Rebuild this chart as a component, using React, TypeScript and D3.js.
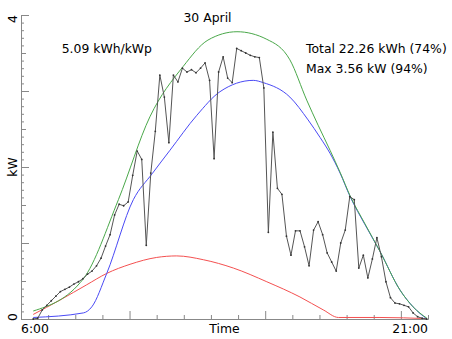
import React, { useRef, useEffect } from 'react';
import * as d3 from 'd3';

// 10-minute samples, first one at 6.45 h
const sampleStart = 6.45;
const sampleStep = 1 / 6;
const measured = [
  0, 0.01, 0.12, 0.18, 0.24, 0.30, 0.36, 0.39, 0.42, 0.46, 0.49, 0.53,
  0.59, 0.63, 0.70, 0.80, 0.96, 1.11, 1.37, 1.51, 1.49, 1.54,
  1.89, 2.21, 2.10, 0.97, 1.92, 2.47, 3.21, 2.92, 2.32, 3.21,
  3.12, 3.30, 3.25, 3.28, 3.24, 3.30, 3.37, 3.14, 2.11, 3.25,
  3.45, 3.17, 3.11, 3.56, 3.53, 3.50, 3.47, 3.45, 3.44, 3.04,
  1.14, 2.46, 1.72, 1.64, 1.09, 0.84, 1.16, 1.16, 0.95, 0.70,
  1.17, 1.28, 1.11, 0.87, 0.75, 0.63, 1.00, 1.17, 1.61, 1.57,
  0.67, 0.84, 0.54, 0.79, 1.07, 0.82, 0.49, 0.28, 0.21, 0.20,
  0.18, 0.16, 0.08, 0.03, 0.01, 0,
];

// model curves: [hour, kW]
const clearSkyGreen: [number, number][] = [
  [6.45, 0.105], [8.3, 0.53], [9.59, 1.57], [10.75, 2.66], [11.97, 3.32],
  [12.89, 3.67], [13.96, 3.78], [15.06, 3.68], [15.91, 3.41], [16.53, 2.88],
  [16.95, 2.55], [17.39, 2.22], [17.76, 1.93], [18.13, 1.62], [18.68, 1.25],
  [19.23, 0.89], [19.97, 0.38], [20.45, 0.16], [20.96, 0.01],
];
const directBlue: [number, number][] = [
  [6.45, 0.02], [8.3, 0.08], [8.61, 0.16], [9.16, 0.6], [10.14, 1.57],
  [10.83, 1.91], [11.49, 2.22], [12.48, 2.68], [13.33, 2.99], [14.56, 3.14],
  [14.93, 3.11], [15.91, 2.92], [16.58, 2.62], [17.02, 2.39], [17.39, 2.18],
  [17.76, 1.92], [18.13, 1.61], [18.68, 1.24], [19.23, 0.89], [19.97, 0.38],
  [20.45, 0.16], [20.96, 0],
];
const diffuseRed: [number, number][] = [
  [6.45, 0.06], [7.44, 0.25], [8.42, 0.45], [9.16, 0.6], [10.02, 0.72],
  [11.0, 0.81], [11.74, 0.83], [12.72, 0.78], [13.83, 0.67], [15.06, 0.49],
  [16.28, 0.29], [17.14, 0.12], [17.7, 0.02], [19.23, 0.02], [20.96, 0.005],
];

const hourTicks = d3.range(6, 22);
const kwTicks = d3.range(0, 41).map((d) => d / 10);

const font = 'DejaVu Sans';
const fs = 12.4;

export default function App() {
  const width = 452;
  const height = 339;
  const x = d3.scaleLinear().domain([6, 21]).range([21, 428]);
  const y = d3.scaleLinear().domain([0, 4]).range([319, 15]);
  const axRef = useRef<SVGGElement>(null);

  useEffect(() => {
    const g = d3.select(axRef.current);
    g.selectAll('*').remove();
    const minorX = hourTicks.filter((h) => h % 5 !== 0);
    const majorX = hourTicks.filter((h) => h % 5 === 0);
    g.append('g').attr('transform', 'translate(0,319)')
      .call(d3.axisBottom(x).tickValues(minorX).tickSize(-4).tickSizeOuter(0).tickFormat(() => ''));
    g.append('g').attr('transform', 'translate(0,319)')
      .call(d3.axisBottom(x).tickValues(majorX).tickSize(-8).tickSizeOuter(0).tickFormat(() => ''));
    const isInt = (v: number) => Math.abs(v - Math.round(v)) < 1e-6;
    const isHalf = (v: number) => !isInt(v) && Math.abs(v * 2 - Math.round(v * 2)) < 1e-6;
    const groups: [number[], number][] = [
      [kwTicks.filter((v) => !isInt(v) && !isHalf(v)), -3],
      [kwTicks.filter(isHalf), -5],
      [kwTicks.filter(isInt), -8],
    ];
    groups.forEach(([vals, size]) => {
      g.append('g').attr('transform', 'translate(21,0)')
        .call(d3.axisLeft(y).tickValues(vals).tickSize(size).tickSizeOuter(0).tickFormat(() => ''));
    });
    g.selectAll('path.domain').attr('stroke', '#888');
    g.selectAll('.tick line').attr('stroke', '#888');
  });

  const pts: [number, number][] = measured.map((v, i) => [sampleStart + i * sampleStep, v]);
  const straight = d3.line<[number, number]>().x((d) => x(d[0])).y((d) => y(d[1]));
  const smooth = d3.line<[number, number]>().x((d) => x(d[0])).y((d) => y(d[1])).curve(d3.curveMonotoneX);

  return (
    <svg width={width} height={height} style={{ position: 'absolute', left: 0, top: 0, background: '#fff' }}
      fontFamily={font} fontSize={fs}>
      <g ref={axRef} />
      <path d={smooth(diffuseRed) || ''} fill="none" stroke="#f45050" strokeWidth={1} />
      <path d={smooth(directBlue) || ''} fill="none" stroke="#4a4af5" strokeWidth={1} />
      <path d={smooth(clearSkyGreen) || ''} fill="none" stroke="#4aa84a" strokeWidth={1} />
      <path d={straight(pts) || ''} fill="none" stroke="#555" strokeWidth={1} />
      {pts.map((p, i) => (
        <circle key={i} cx={x(p[0])} cy={y(p[1])} r={0.9} fill="#333" />
      ))}

      <text x={207.5} y={21.7} textAnchor="middle">30 April</text>
      <text x={61.7} y={52.7}>5.09 kWh/kWp</text>
      <text x={306} y={52.7}>Total 22.26 kWh (74%)</text>
      <text x={306} y={73.3}>Max 3.56 kW (94%)</text>

      <text x={21} y={333}>6:00</text>
      <text x={224.5} y={333} textAnchor="middle">Time</text>
      <text x={428} y={333} textAnchor="end">21:00</text>

      <text transform="translate(16.5,15) rotate(-90)" textAnchor="end">4</text>
      <text transform="translate(16.5,167) rotate(-90)" textAnchor="middle">kW</text>
      <text transform="translate(16.5,321) rotate(-90)" textAnchor="start">0</text>
    </svg>
  );
}
